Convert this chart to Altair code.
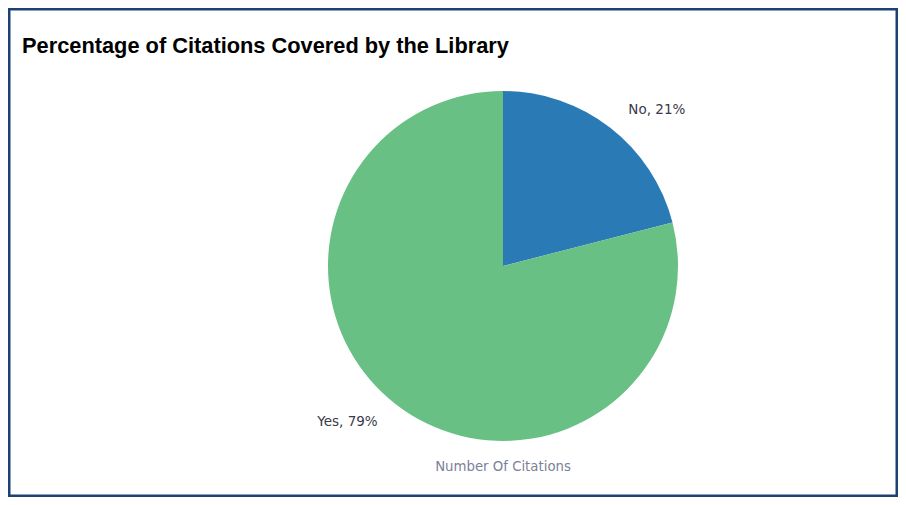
import altair as alt
import pandas as pd

categories = ["No", "Yes"]
percents = [21, 79]
labels = ["No, 21%", "Yes, 79%"]
colors = ["#2A7BB5", "#68C084"]

df = pd.DataFrame({"category": categories, "percent": percents, "label": labels,
                   "order": [0, 1]})

W, H = 890, 489
CX, CY, R = 495, 258, 175

base = alt.Chart(df)

pie = base.mark_arc(radius=R, x=CX, y=CY).encode(
    theta=alt.Theta("percent:Q", stack=True),
    color=alt.Color("category:N", scale=alt.Scale(domain=categories, range=colors), legend=None),
    order=alt.Order("order:Q"),
)

label_common = dict(radius=198, x=CX, y=CY, font="DejaVu Sans", fontSize=13.5,
                    color="#3A3A4A", baseline="middle")

label_right = base.mark_text(align="left", dx=4, **label_common).encode(
    theta=alt.Theta("percent:Q", stack=True),
    order=alt.Order("order:Q"),
    text="label:N",
    opacity=alt.condition(alt.datum.category == "No", alt.value(1), alt.value(0)),
)

label_left = base.mark_text(align="right", dx=-4, **label_common).encode(
    theta=alt.Theta("percent:Q", stack=True),
    order=alt.Order("order:Q"),
    text="label:N",
    opacity=alt.condition(alt.datum.category == "Yes", alt.value(1), alt.value(0)),
)

caption = alt.Chart(pd.DataFrame({"t": ["Number Of Citations"]})).mark_text(
    font="DejaVu Sans", fontSize=13.3, color="#7C8199", align="center", baseline="middle"
).encode(text="t:N", x=alt.value(CX), y=alt.value(459))

border = alt.Chart(pd.DataFrame({"a": [0]})).mark_rect(
    fill=None, stroke="#1A4373", strokeWidth=2.5
).encode(x=alt.value(1.25), x2=alt.value(W - 1.25), y=alt.value(1.25), y2=alt.value(H - 1.25))

chart = alt.layer(border, pie, label_right, label_left, caption).properties(
    width=W,
    height=H,
    autosize=alt.AutoSizeParams(type="none"),
    padding=0,
    title=alt.TitleParams(
        "Percentage of Citations Covered by the Library",
        anchor="start", orient="top", frame="group", offset=0,
        dx=14, dy=67, baseline="alphabetic",
        font="Liberation Sans", fontSize=21.8, fontWeight="bold", color="#000000",
    ),
).configure_view(stroke=None).configure(background="white")

chart.save("out.html", embed_options={"renderer": "svg", "actions": False})
